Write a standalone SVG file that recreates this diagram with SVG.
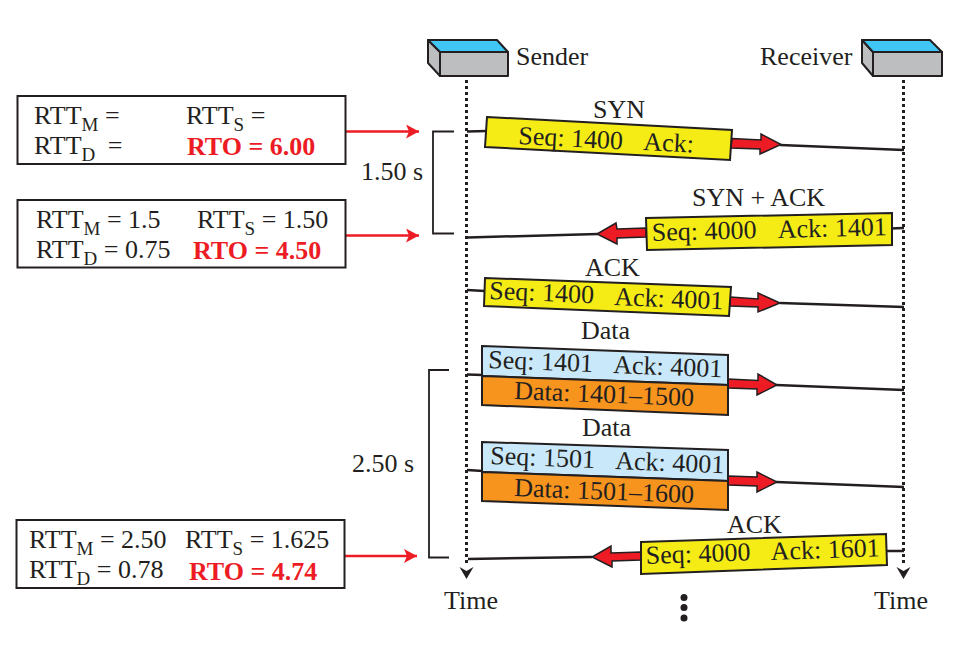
<svg xmlns="http://www.w3.org/2000/svg" width="961" height="645" viewBox="0 0 961 645">
<style>
text{font-family:"Liberation Serif","Times New Roman",serif;font-size:26px;fill:#231f20}
.sub{font-size:19px}
.rto{font-weight:bold;fill:#ed1c24}
.box{fill:#fff;stroke:#231f20;stroke-width:2}
.ln{fill:none;stroke:#231f20;stroke-width:2.500}
.br{fill:none;stroke:#231f20;stroke-width:1.800}
.life{fill:none;stroke:#231f20;stroke-width:3;stroke-dasharray:3 3}
.red{fill:none;stroke:#ed1c24;stroke-width:2.500}
.fat{fill:#ed1c24;stroke:#231f20;stroke-width:1.500;stroke-linejoin:miter}
.y{fill:#f5ec16;stroke:#231f20;stroke-width:2}
.b{fill:#c9e8fa;stroke:#231f20;stroke-width:2}
.o{fill:#f7941e;stroke:#231f20;stroke-width:2}
.dev{stroke:#231f20;stroke-width:2;stroke-linejoin:round}
</style>
<defs>
<marker id="ra" markerUnits="userSpaceOnUse" markerWidth="14" markerHeight="14" refX="13" refY="7" orient="auto"><path d="M0 0L13 7L0 14L3 7Z" fill="#ed1c24"/></marker>
</defs>

<g id="connectors">
<path class="life" d="M466.500 80V566"/>
<path class="life" d="M903.500 80V566"/>
<path d="M459.500 567L466.500 571L473.500 567L466.500 579Z" fill="#231f20"/>
<path d="M896.500 567L903.500 571L910.500 567L903.500 579Z" fill="#231f20"/>
<path class="ln" d="M467 131.500L487 131M780 145L904 150"/>
<path class="ln" d="M468 237.500L598 234M890 228.500L904 228"/>
<path class="ln" d="M467 290L485 291M780 303L904 307"/>
<path class="ln" d="M467 374.500L483 375M776 385L904 390"/>
<path class="ln" d="M467 470L483 471M776 482L904 487"/>
<path class="ln" d="M468 559L592 557M886 551L904 551"/>
<path class="br" d="M454 131.500H433V233.500H454"/>
<path class="br" d="M449 370H429V557.500H449"/>
<path class="red" marker-end="url(#ra)" d="M346 131.500H419"/>
<path class="red" marker-end="url(#ra)" d="M346 235.500H419"/>
<path class="red" marker-end="url(#ra)" d="M344 556H417"/>
<path class="fat" d="M732 138.500L761 140L761 134L781 144.500L760 154L760 149L731 148Z"/>
<path class="fat" d="M646 228L617 229L616 223L597 234L617 244L617 238L646 237Z"/>
<path class="fat" d="M730 297L758 299L758 293L780 303L758 312L758 307L730 306Z"/>
<path class="fat" d="M728 379L758 380.500L758 374L777 385L757 395L757 389L728 388Z"/>
<path class="fat" d="M728 476L757 477L757 472L777 482L757 492L757 486L728 485Z"/>
<path class="fat" d="M641 552L611 553L611 546L592 557L612 567L612 561L641 560Z"/>
</g>

<g id="box-1">
<rect class="box" x="17.500" y="96" width="328" height="68"/>
<text x="34" y="124">RTT<tspan class="sub" dy="7">M</tspan><tspan dy="-7"> =</tspan></text>
<text x="186" y="124">RTT<tspan class="sub" dy="7">S</tspan><tspan dy="-7"> =</tspan></text>
<text x="34" y="154">RTT<tspan class="sub" dy="7">D</tspan><tspan dy="-7" dx="6"> =</tspan></text>
<text class="rto" x="187" y="155">RTO = 6.00</text>
</g>
<g id="box-2">
<rect class="box" x="17.500" y="200" width="328" height="67.500"/>
<text x="36" y="228">RTT<tspan class="sub" dy="7">M</tspan><tspan dy="-7"> = 1.5</tspan></text>
<text x="197" y="228">RTT<tspan class="sub" dy="7">S</tspan><tspan dy="-7"> = 1.50</tspan></text>
<text x="36" y="258">RTT<tspan class="sub" dy="7">D</tspan><tspan dy="-7"> = 0.75</tspan></text>
<text class="rto" x="193" y="259">RTO = 4.50</text>
</g>
<g id="box-3">
<rect class="box" x="16.500" y="520" width="328" height="68"/>
<text x="29" y="548">RTT<tspan class="sub" dy="7">M</tspan><tspan dy="-7"> = 2.50</tspan></text>
<text x="185" y="548">RTT<tspan class="sub" dy="7">S</tspan><tspan dy="-7"> = 1.625</tspan></text>
<text x="29" y="578">RTT<tspan class="sub" dy="7">D</tspan><tspan dy="-7"> = 0.78</tspan></text>
<text class="rto" x="189" y="580">RTO = 4.74</text>
</g>

<g id="sender">
<path class="dev" fill="#bcbec0" d="M428 40L440 52V76L428 63Z"/>
<path class="dev" fill="#3fc6f4" d="M428 40H497L508 52H440Z"/>
<rect class="dev" fill="#bcbec0" x="440" y="52" width="68" height="24"/>
<text x="516" y="65">Sender</text>
</g>
<g id="receiver">
<path class="dev" fill="#bcbec0" d="M862 40L873 52V76L862 63Z"/>
<path class="dev" fill="#3fc6f4" d="M862 40H930L942 52H873Z"/>
<rect class="dev" fill="#bcbec0" x="873" y="52" width="69" height="24"/>
<text x="760" y="65">Receiver</text>
</g>

<text x="361" y="180">1.50 s</text>
<text x="352" y="472">2.50 s</text>

<g id="syn">
<text x="593" y="118">SYN</text>
<polygon class="y" points="487,117 732,130 730,160 485,147"/>
<text transform="translate(518,144) rotate(3)">Seq: 1400</text>
<text transform="translate(643,150) rotate(3)">Ack:</text>
</g>
<g id="syn-ack">
<text x="692" y="206">SYN + ACK</text>
<polygon class="y" points="646,218 892,213 892,245 647,250"/>
<text transform="translate(652,241) rotate(-1.500)">Seq: 4000</text>
<text transform="translate(778,238) rotate(-1.500)">Ack: 1401</text>
</g>
<g id="ack-1">
<text x="585" y="276">ACK</text>
<polygon class="y" points="485,278 731,287 729,316 484,306"/>
<text transform="translate(489,299) rotate(2.300)">Seq: 1400</text>
<text transform="translate(614,305) rotate(2.300)">Ack: 4001</text>
</g>
<g id="data-1">
<text x="581" y="339">Data</text>
<polygon class="b" points="482,346 728,355 728,385 482,376"/>
<polygon class="o" points="482,376 728,385 728,415 482,405"/>
<text transform="translate(488,368) rotate(2.200)">Seq: 1401</text>
<text transform="translate(613,373) rotate(2.200)">Ack: 4001</text>
<text transform="translate(514,399) rotate(2.200)">Data: 1401–1500</text>
</g>
<g id="data-2">
<text x="582" y="436">Data</text>
<polygon class="b" points="482,442 728,450 728,481 482,472"/>
<polygon class="o" points="482,472 728,481 728,510 482,501"/>
<text transform="translate(490,464) rotate(2.200)">Seq: 1501</text>
<text transform="translate(615,469) rotate(2.200)">Ack: 4001</text>
<text transform="translate(514,496) rotate(2.200)">Data: 1501–1600</text>
</g>
<g id="ack-2">
<text x="727" y="533">ACK</text>
<polygon class="y" points="641,542 886,534 887,565 641,574"/>
<text transform="translate(646,564) rotate(-2)">Seq: 4000</text>
<text transform="translate(771,560) rotate(-2)">Ack: 1601</text>
</g>

<text x="444" y="609">Time</text>
<text x="874" y="609">Time</text>
<g id="dots" fill="#231f20">
<circle cx="684" cy="597.500" r="3.500"/>
<circle cx="684" cy="607.500" r="3.500"/>
<circle cx="684" cy="618" r="3.500"/>
</g>
</svg>
